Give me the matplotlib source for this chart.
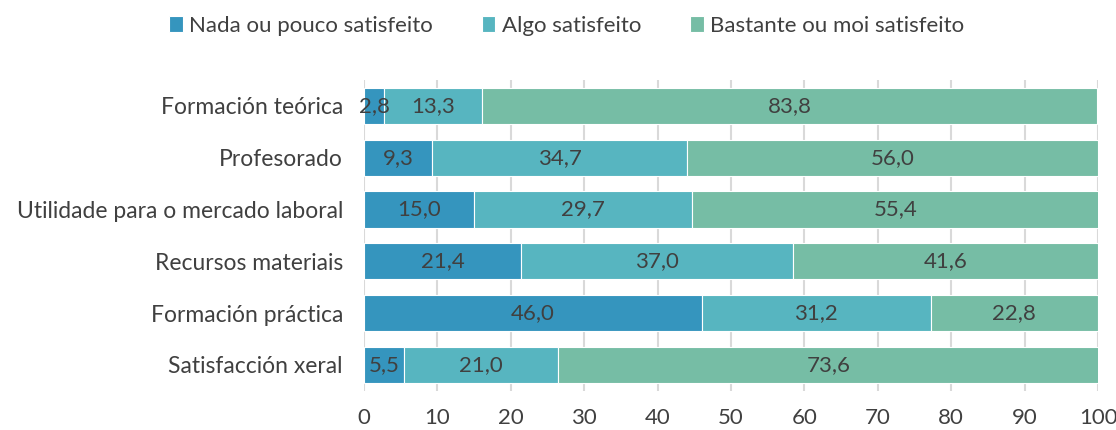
import matplotlib.pyplot as plt
import numpy as np

plt.rcParams['font.family'] = ['Lato', 'DejaVu Sans']

categories = ['Formación teórica', 'Profesorado', 'Utilidade para o mercado laboral',
              'Recursos materiais', 'Formación práctica', 'Satisfacción xeral']
nada = [2.8, 9.3, 15.0, 21.4, 46.0, 5.5]
algo = [13.3, 34.7, 29.7, 37.0, 31.2, 21.0]
bastante = [83.8, 56.0, 55.4, 41.6, 22.8, 73.6]
series_names = ['Nada ou pouco satisfeito', 'Algo satisfeito', 'Bastante ou moi satisfeito']
colors = ['#3595BE', '#57B5C0', '#76BDA5']

TEXT = '#404040'
FS = 16

fig = plt.figure(figsize=(11.16, 4.30), dpi=100)
ax = fig.add_axes([0.326, 0.091, 0.658, 0.723])

y = np.arange(len(categories))
left = np.zeros(len(categories))
for vals, name, col in zip([nada, algo, bastante], series_names, colors):
    vals = np.array(vals)
    ax.barh(y, vals, left=left, height=0.7, color=col, edgecolor='white',
            linewidth=0.8, label=name, zorder=3)
    for yi, l, v in zip(y, left, vals):
        ax.text(l + v / 2, yi, f'{v:.1f}'.replace('.', ','), ha='center', va='center',
                fontsize=FS, color=TEXT, zorder=4)
    left += vals

ax.set_xlim(0, 100)
ax.set_ylim(len(categories) - 0.5, -0.5)
ax.set_yticks(y)
ax.set_yticklabels(categories, fontsize=16.5)
ax.set_xticks(np.arange(0, 101, 10))
ax.grid(axis='x', color='#d9d9d9', linewidth=1.5, zorder=0)
for s in ax.spines.values():
    s.set_visible(False)
ax.tick_params(axis='x', length=0, labelsize=FS, labelcolor=TEXT, pad=12)
ax.tick_params(axis='y', length=0, labelcolor=TEXT, pad=15)

fig.legend(loc='upper center', bbox_to_anchor=(0.508, 1.01), ncol=3, frameon=False,
           fontsize=FS, labelcolor=TEXT, handlelength=0.6, handleheight=0.7,
           handletextpad=0.3, columnspacing=2.2)

fig.savefig('out.png', dpi=100)
